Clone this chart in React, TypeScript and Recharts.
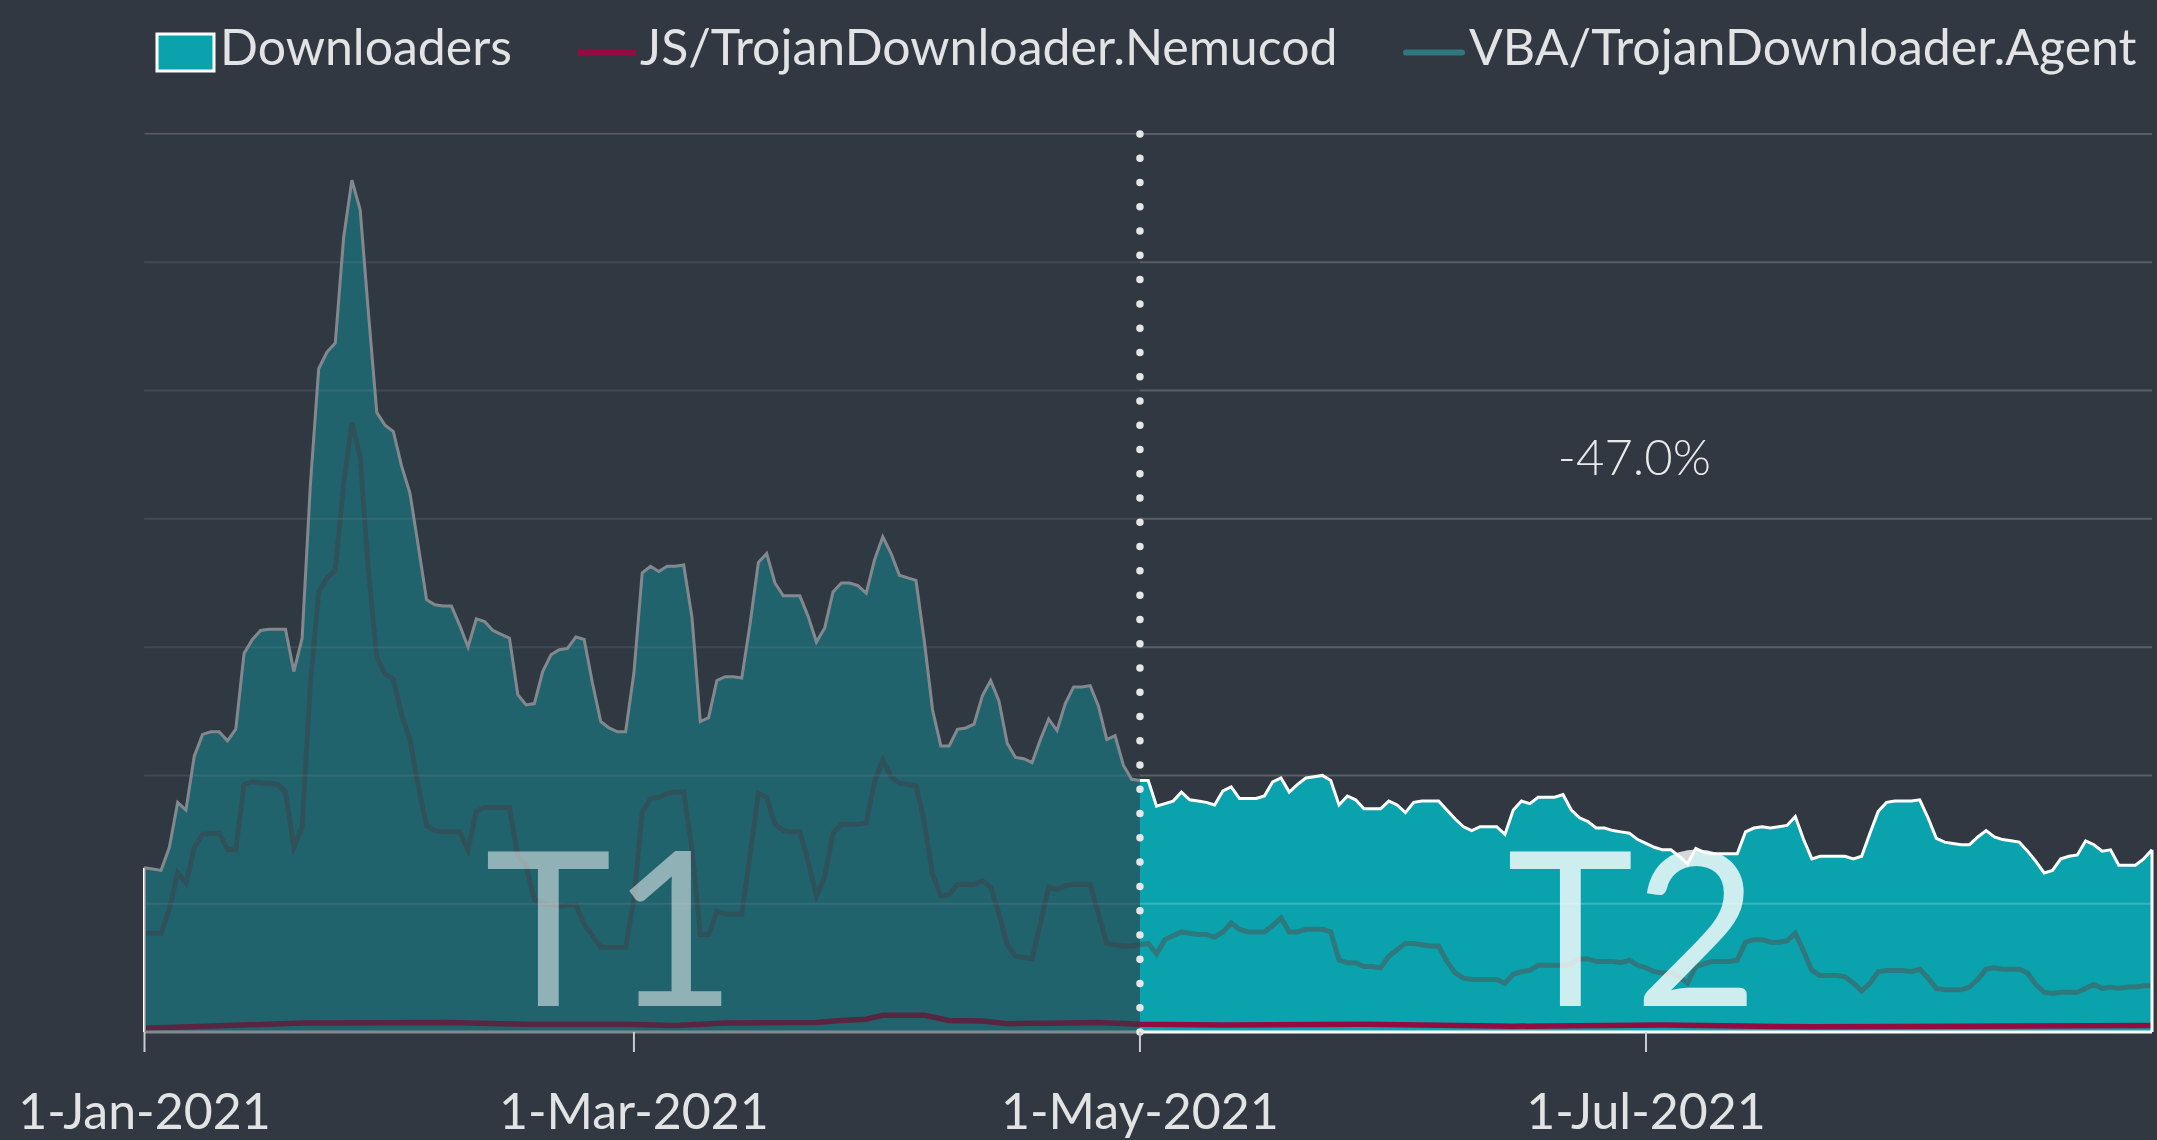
import React from 'react';
import {
  ComposedChart,
  Area,
  Line,
  XAxis,
  YAxis,
  ReferenceLine,
  ReferenceArea,
  ReferenceDot,
} from 'recharts';

// ---------- data (day 0 = 1-Jan-2021, daily to 31-Aug-2021) ----------
const downloaders = [
  1.28, 1.27, 1.26, 1.44, 1.79, 1.73, 2.15, 2.32, 2.34, 2.34,
  2.27, 2.36, 2.95, 3.06, 3.13, 3.14, 3.14, 3.14, 2.81, 3.07,
  4.27, 5.17, 5.30, 5.37, 6.19, 6.64, 6.41, 5.60, 4.83, 4.73,
  4.68, 4.41, 4.20, 3.79, 3.37, 3.33, 3.32, 3.32, 3.17, 3.00,
  3.22, 3.20, 3.13, 3.10, 3.07, 2.63, 2.55, 2.56, 2.81, 2.94,
  2.98, 2.99, 3.08, 3.06, 2.72, 2.42, 2.37, 2.34, 2.34, 2.80,
  3.58, 3.63, 3.59, 3.63, 3.63, 3.64, 3.23, 2.42, 2.45, 2.74,
  2.77, 2.77, 2.76, 3.18, 3.66, 3.73, 3.50, 3.40, 3.40, 3.40,
  3.24, 3.04, 3.15, 3.43, 3.50, 3.50, 3.48, 3.42, 3.68, 3.86,
  3.73, 3.56, 3.54, 3.52, 3.05, 2.51, 2.23, 2.23, 2.36, 2.37,
  2.40, 2.62, 2.74, 2.58, 2.25, 2.14, 2.13, 2.10, 2.28, 2.44,
  2.35, 2.56, 2.69, 2.69, 2.70, 2.54, 2.28, 2.31, 2.08, 1.97,
  1.96, 1.96, 1.76, 1.78, 1.80, 1.87, 1.81, 1.80, 1.79, 1.77,
  1.88, 1.91, 1.82, 1.82, 1.82, 1.84, 1.95, 1.98, 1.87, 1.93,
  1.98, 1.99, 2.00, 1.96, 1.77, 1.84, 1.81, 1.74, 1.74, 1.74,
  1.80, 1.77, 1.71, 1.79, 1.80, 1.80, 1.80, 1.73, 1.66, 1.60,
  1.57, 1.60, 1.60, 1.60, 1.54, 1.73, 1.80, 1.78, 1.83, 1.83,
  1.83, 1.85, 1.73, 1.67, 1.64, 1.59, 1.59, 1.57, 1.56, 1.55,
  1.50, 1.47, 1.44, 1.42, 1.42, 1.37, 1.31, 1.43, 1.40, 1.39,
  1.39, 1.39, 1.39, 1.56, 1.59, 1.60, 1.59, 1.60, 1.61, 1.68,
  1.50, 1.35, 1.37, 1.37, 1.37, 1.37, 1.35, 1.37, 1.55, 1.72,
  1.79, 1.80, 1.80, 1.80, 1.81, 1.67, 1.51, 1.48, 1.47, 1.46,
  1.46, 1.52, 1.57, 1.52, 1.50, 1.49, 1.48, 1.41, 1.33, 1.24,
  1.26, 1.35, 1.37, 1.38, 1.49, 1.46, 1.41, 1.42, 1.30, 1.30,
  1.30, 1.35, 1.42,
];

const vbaAgent = [
  0.77, 0.77, 0.77, 0.96, 1.24, 1.16, 1.44, 1.54, 1.55, 1.55,
  1.42, 1.42, 1.93, 1.95, 1.94, 1.94, 1.93, 1.87, 1.44, 1.60,
  2.72, 3.43, 3.54, 3.60, 4.27, 4.75, 4.48, 3.59, 2.92, 2.79,
  2.75, 2.47, 2.28, 1.92, 1.61, 1.57, 1.56, 1.56, 1.56, 1.42,
  1.72, 1.75, 1.75, 1.75, 1.75, 1.37, 1.30, 1.03, 1.00, 0.99,
  0.98, 0.99, 0.99, 0.84, 0.75, 0.66, 0.66, 0.66, 0.66, 1.04,
  1.71, 1.82, 1.83, 1.86, 1.87, 1.87, 1.43, 0.76, 0.76, 0.94,
  0.92, 0.92, 0.92, 1.38, 1.86, 1.83, 1.62, 1.57, 1.56, 1.56,
  1.33, 1.06, 1.21, 1.55, 1.62, 1.62, 1.62, 1.63, 1.95, 2.12,
  1.99, 1.94, 1.93, 1.92, 1.64, 1.23, 1.06, 1.07, 1.15, 1.15,
  1.15, 1.18, 1.13, 0.92, 0.68, 0.59, 0.58, 0.57, 0.85, 1.13,
  1.11, 1.14, 1.15, 1.15, 1.15, 0.92, 0.69, 0.68, 0.67, 0.67,
  0.68, 0.69, 0.61, 0.72, 0.75, 0.78, 0.77, 0.76, 0.76, 0.74,
  0.78, 0.85, 0.80, 0.78, 0.78, 0.78, 0.83, 0.89, 0.78, 0.78,
  0.80, 0.80, 0.80, 0.78, 0.56, 0.54, 0.54, 0.51, 0.51, 0.50,
  0.59, 0.64, 0.69, 0.69, 0.68, 0.67, 0.67, 0.55, 0.46, 0.42,
  0.41, 0.41, 0.41, 0.41, 0.38, 0.45, 0.47, 0.48, 0.52, 0.52,
  0.52, 0.52, 0.53, 0.57, 0.57, 0.55, 0.55, 0.55, 0.54, 0.56,
  0.52, 0.50, 0.47, 0.46, 0.46, 0.43, 0.38, 0.51, 0.53, 0.55,
  0.55, 0.55, 0.56, 0.70, 0.72, 0.72, 0.70, 0.70, 0.71, 0.77,
  0.63, 0.48, 0.44, 0.44, 0.44, 0.43, 0.38, 0.32, 0.38, 0.47,
  0.48, 0.48, 0.48, 0.47, 0.49, 0.42, 0.34, 0.33, 0.33, 0.33,
  0.35, 0.41, 0.49, 0.50, 0.49, 0.49, 0.49, 0.46, 0.37, 0.31,
  0.30, 0.31, 0.31, 0.31, 0.34, 0.37, 0.34, 0.35, 0.34, 0.35,
  0.35, 0.36, 0.36,
];

const nemucodDays = [0, 10, 19, 37, 46, 58, 64, 70, 81, 84, 87, 89, 94, 97, 101, 104, 111, 115, 120, 130, 147, 165, 183, 201, 219, 242];
const nemucodValues = [0.03, 0.05, 0.07, 0.075, 0.06, 0.06, 0.05, 0.07, 0.075, 0.09, 0.1, 0.13, 0.13, 0.09, 0.085, 0.065, 0.07, 0.075, 0.06, 0.055, 0.06, 0.045, 0.055, 0.04, 0.045, 0.05];

const tickDays = [0, 59, 120, 181];
const tickLabels = ['1-Jan-2021', '1-Mar-2021', '1-May-2021', '1-Jul-2021'];
const gridValues = [1, 2, 3, 4, 5, 6, 7];
const seriesNames = ['Downloaders', 'JS/TrojanDownloader.Nemucod', 'VBA/TrojanDownloader.Agent'];
const splitDay = 120;
const lastDay = 242;
const yMax = 7;
const periodLabels = ['T1', 'T2'];
const periodLabelDays = [56.2, 179.4];
const changeLabel = '-47.0%';
const changeLabelDay = 179.6;
const changeLabelValue = 4.34;

// ---------- styles ----------
const BG = '#313842';
const TEAL = '#0aa3ad';
const NEM_COLOR = '#930b40';
const VBA_COLOR = '#2f787d';
const TEXT = '#e2e3e4';
const FONT = 'Lato, "Noto Sans", sans-serif';

const mainData = downloaders.map((v, i) => ({ day: i, total: v, vba: vbaAgent[i] }));
const nemData = nemucodDays.map((d, i) => ({ day: d, nem: nemucodValues[i] }));

const W = 2157;
const H = 1140;

function LegendOverlay() {
  return (
    <svg width={W} height={100} style={{ position: 'absolute', left: 0, top: 0 }}>
      <rect x={157} y={34} width={57} height={37} fill={TEAL} stroke="#ffffff" strokeWidth={3} />
      <text x={220} y={65} fill={TEXT} fontSize={50} fontFamily={FONT}>{seriesNames[0]}</text>
      <line x1={578} y1={52.5} x2={636} y2={52.5} stroke={NEM_COLOR} strokeWidth={6} />
      <text x={640} y={65} fill={TEXT} fontSize={50} fontFamily={FONT}>{seriesNames[1]}</text>
      <line x1={1406} y1={52.5} x2={1462} y2={52.5} stroke={VBA_COLOR} strokeWidth={6} strokeLinecap="round" />
      <text x={1469} y={65} fill={TEXT} fontSize={50} fontFamily={FONT}>{seriesNames[2]}</text>
    </svg>
  );
}

const periodText = (label: string, opacity: number) => (props: any) => (
  <text
    x={props.cx}
    y={props.cy}
    textAnchor="middle"
    fill="#ffffff"
    fillOpacity={opacity}
    fontSize={215}
    fontFamily={FONT}
  >
    {label}
  </text>
);

const changeText = (props: any) => (
  <text x={props.cx} y={props.cy} textAnchor="middle" fill="#e8e9ea" fontSize={49} fontFamily={FONT} fontWeight={300}>
    {changeLabel}
  </text>
);

const overlayShape = (props: any) => (
  <rect x={props.x} y={props.y} width={props.width} height={props.height + 3} fill={BG} fillOpacity={0.6} />
);

export default function App() {
  return (
    <div style={{ position: 'absolute', left: 0, top: 0, width: W, height: H, background: BG, overflow: 'hidden' }}>
      <ComposedChart
        width={W}
        height={H}
        data={mainData}
        margin={{ top: 134, right: 5, bottom: 0, left: 144.5 }}
      >
        <XAxis
          dataKey="day"
          type="number"
          domain={[0, lastDay]}
          ticks={tickDays}
          interval={0}
          tickFormatter={(d: number) => tickLabels[tickDays.indexOf(d)]}
          axisLine={false}
          tickLine={{ stroke: '#c9cbcd', strokeWidth: 2 }}
          tickSize={20}
          tickMargin={41}
          height={108}
          tick={{ fill: TEXT, fontSize: 50, fontFamily: FONT }}
        />
        <YAxis hide type="number" domain={[0, yMax]} ticks={gridValues} />
        <Area
          type="linear"
          dataKey="total"
          fill={TEAL}
          fillOpacity={1}
          stroke="#ffffff"
          strokeWidth={3}
          isAnimationActive={false}
          zIndex={100}
        />
        <Line
          data={nemData}
          type="linear"
          dataKey="nem"
          stroke={NEM_COLOR}
          strokeWidth={5.5}
          dot={false}
          activeDot={false}
          isAnimationActive={false}
          zIndex={110}
        />
        <Line
          type="linear"
          dataKey="vba"
          stroke={VBA_COLOR}
          strokeWidth={5}
          dot={false}
          activeDot={false}
          isAnimationActive={false}
          zIndex={120}
        />
        {gridValues.map((g) => (
          <ReferenceLine key={g} y={g} stroke="#ffffff" strokeOpacity={0.2} strokeWidth={2} zIndex={130} />
        ))}
        <ReferenceLine y={0} stroke="#ffffff" strokeWidth={3} zIndex={140} />
        <ReferenceLine
          segment={[{ x: 0, y: 0 }, { x: 0, y: downloaders[0] }]}
          stroke="#ffffff"
          strokeWidth={3}
          zIndex={140}
        />
        <ReferenceLine
          segment={[{ x: lastDay, y: 0 }, { x: lastDay, y: downloaders[lastDay] }]}
          stroke="#ffffff"
          strokeWidth={3}
          zIndex={140}
        />
        <ReferenceArea x1={0} x2={splitDay} y1={0} y2={yMax} shape={overlayShape} zIndex={150} />
        <ReferenceLine
          x={splitDay}
          stroke="#e6e6e6"
          strokeWidth={7.5}
          strokeDasharray={`0 ${898 / 37}`}
          strokeLinecap="round"
          zIndex={160}
        />
        <ReferenceDot x={periodLabelDays[0]} y={0.2} r={1} shape={periodText(periodLabels[0], 0.5)} zIndex={170} />
        <ReferenceDot x={periodLabelDays[1]} y={0.2} r={1} shape={periodText(periodLabels[1], 0.8)} zIndex={170} />
        <ReferenceDot x={changeLabelDay} y={changeLabelValue} r={1} shape={changeText} zIndex={170} />
      </ComposedChart>
      <LegendOverlay />
    </div>
  );
}
